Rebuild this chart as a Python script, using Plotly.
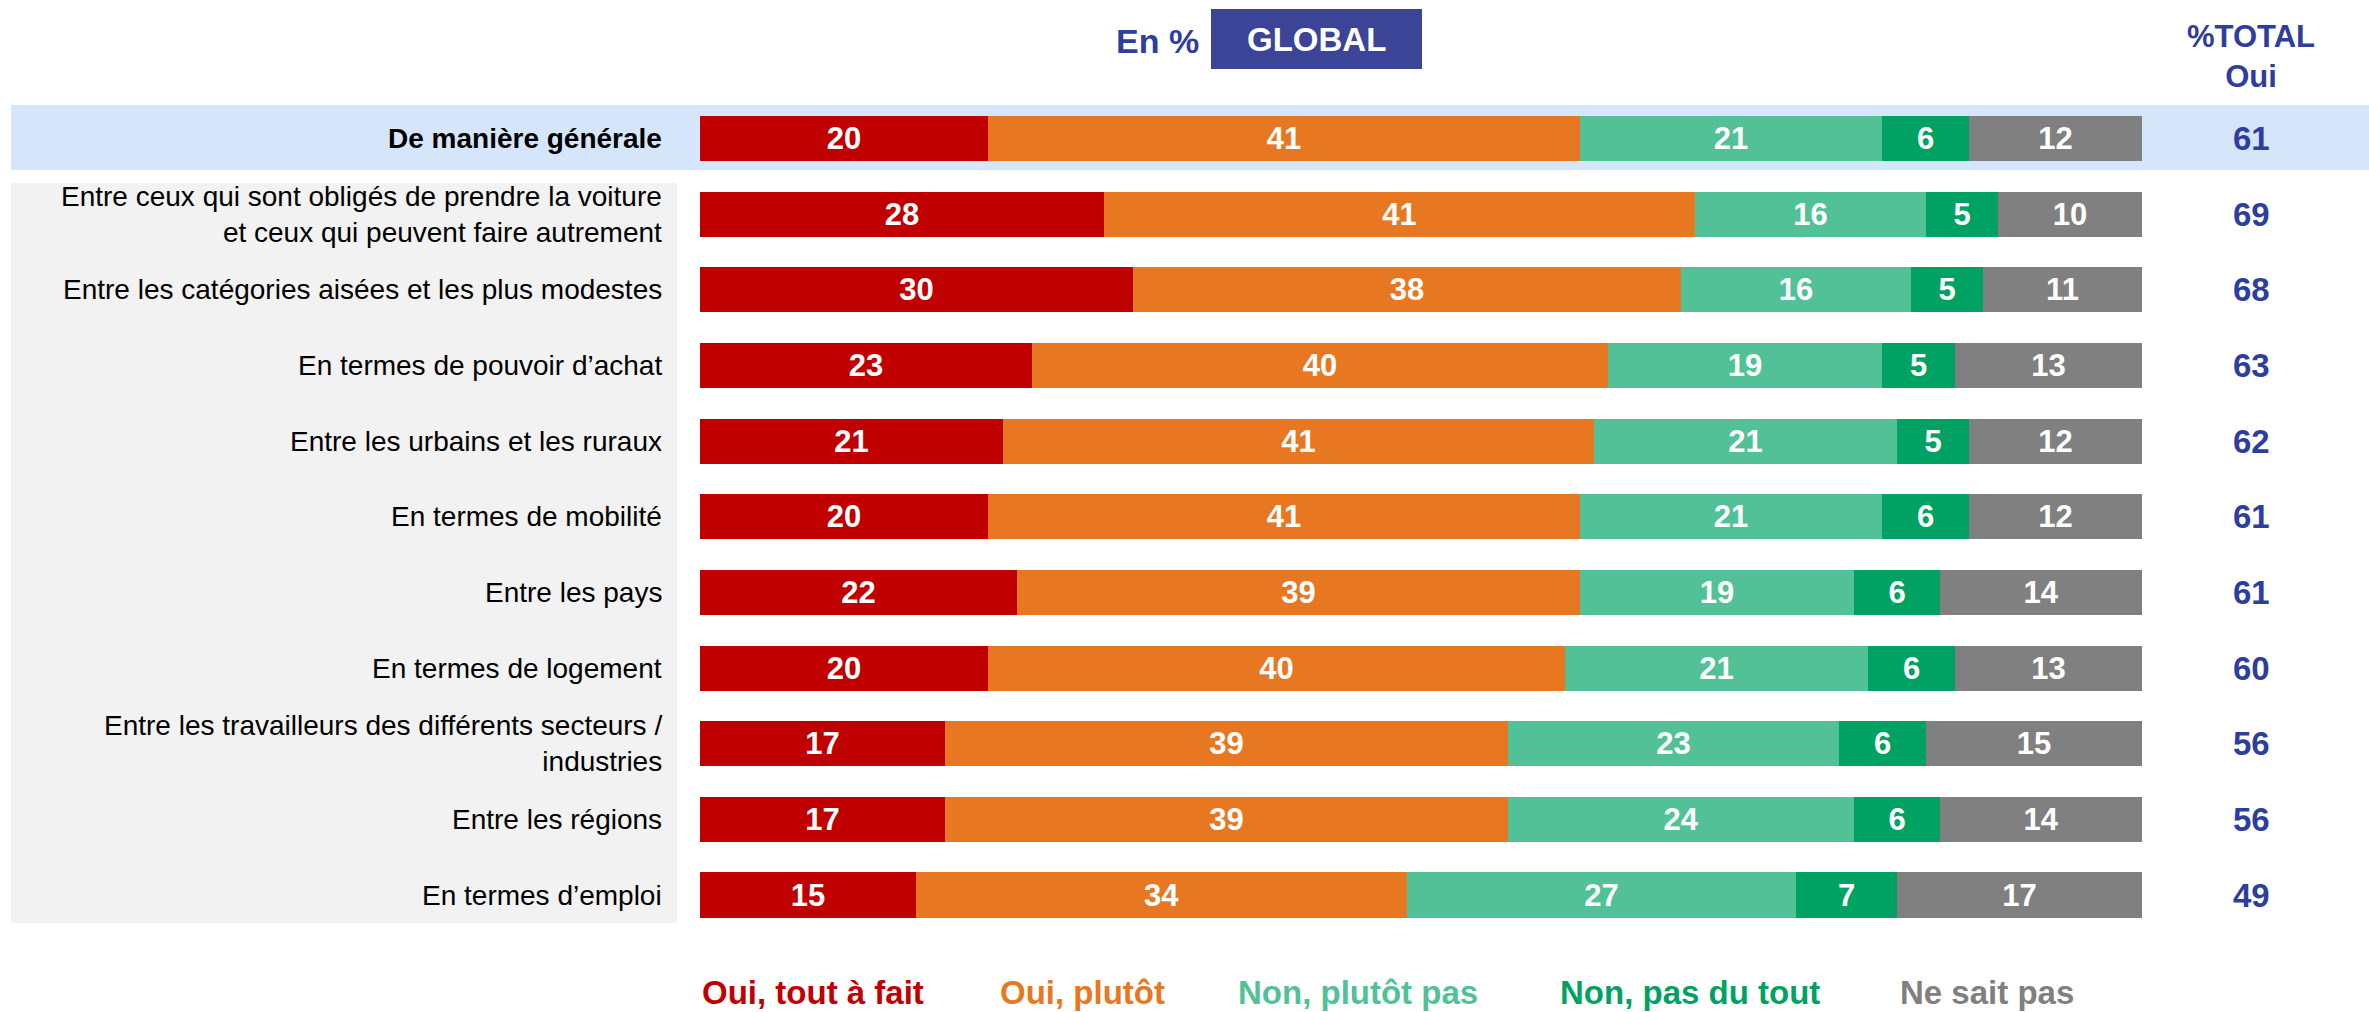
import plotly.graph_objects as go

# Survey results (in %)
categories = [
    "De manière générale",
    "Entre ceux qui sont obligés de prendre la voiture<br>et ceux qui peuvent faire autrement",
    "Entre les catégories aisées et les plus modestes",
    "En termes de pouvoir d’achat",
    "Entre les urbains et les ruraux",
    "En termes de mobilité",
    "Entre les pays",
    "En termes de logement",
    "Entre les travailleurs des différents secteurs /<br>industries",
    "Entre les régions",
    "En termes d’emploi",
]
oui_tout_a_fait = [20, 28, 30, 23, 21, 20, 22, 20, 17, 17, 15]
oui_plutot = [41, 41, 38, 40, 41, 41, 39, 40, 39, 39, 34]
non_plutot_pas = [21, 16, 16, 19, 21, 21, 19, 21, 23, 24, 27]
non_pas_du_tout = [6, 5, 5, 5, 5, 6, 6, 6, 6, 6, 7]
ne_sait_pas = [12, 10, 11, 13, 12, 12, 14, 13, 15, 14, 17]
total_oui = [61, 69, 68, 63, 62, 61, 61, 60, 56, 56, 49]

series_names = ["Oui, tout à fait", "Oui, plutôt", "Non, plutôt pas", "Non, pas du tout", "Ne sait pas"]
series_values = [oui_tout_a_fait, oui_plutot, non_plutot_pas, non_pas_du_tout, ne_sait_pas]
series_colors = ["#C00000", "#E87722", "#52C197", "#00A264", "#808080"]

W, H = 2369, 1012
FONT = "Liberation Sans, Arial, sans-serif"
BLUE = "#2E3E9C"
rows = list(range(len(categories)))


def px_x(p):
    return p / W


def px_y(p):
    return 1 - p / H


fig = go.Figure()
for name, vals, col in zip(series_names, series_values, series_colors):
    fig.add_trace(go.Bar(
        y=rows, x=vals, name=name, orientation="h",
        marker=dict(color=col, line=dict(width=0)),
        width=0.595,
        text=vals, texttemplate="%{text}",
        textposition="inside", insidetextanchor="middle",
        textfont=dict(family=FONT, size=31, color="white", weight="bold"),
        hoverinfo="skip",
    ))

shapes = [
    # highlighted first row band
    dict(type="rect", xref="paper", yref="paper", layer="below",
         x0=px_x(11), x1=1, y0=px_y(170), y1=px_y(105),
         fillcolor="#D6E6FA", line=dict(width=0)),
    # grey background behind the other row labels
    dict(type="rect", xref="paper", yref="paper", layer="below",
         x0=px_x(11), x1=px_x(677), y0=px_y(923), y1=px_y(183),
         fillcolor="#F2F2F2", line=dict(width=0)),
    # GLOBAL box
    dict(type="rect", xref="paper", yref="paper", layer="above",
         x0=px_x(1211), x1=px_x(1422), y0=px_y(69), y1=px_y(9),
         fillcolor="#3B4497", line=dict(width=0)),
]

annotations = []
for i, cat in enumerate(categories):
    annotations.append(dict(
        x=px_x(664), xref="paper", y=i, yref="y",
        text=f"<b>{cat}</b>" if i == 0 else cat,
        xanchor="right", yanchor="middle", align="right", showarrow=False,
        font=dict(family=FONT, size=28, color="#000000"),
    ))
    annotations.append(dict(
        x=px_x(2251), xref="paper", y=i, yref="y",
        text=f"<b>{total_oui[i]}</b>",
        xanchor="center", yanchor="middle", showarrow=False,
        font=dict(family=FONT, size=33, color=BLUE),
    ))

# header
annotations += [
    dict(x=px_x(1157), y=px_y(41), xref="paper", yref="paper", text="<b>En %</b>",
         showarrow=False, xanchor="center", yanchor="middle",
         font=dict(family=FONT, size=34, color=BLUE)),
    dict(x=px_x(1316), y=px_y(39), xref="paper", yref="paper", text="<b>GLOBAL</b>",
         showarrow=False, xanchor="center", yanchor="middle",
         font=dict(family=FONT, size=33, color="white")),
    dict(x=px_x(2251), y=px_y(56), xref="paper", yref="paper", text="<b>%TOTAL<br>Oui</b>",
         showarrow=False, xanchor="center", yanchor="middle",
         font=dict(family=FONT, size=31, color=BLUE)),
]

# legend row along the bottom edge
legend_centers = [813, 1082, 1358, 1690, 1987]
for name, col, cx in zip(series_names, series_colors, legend_centers):
    annotations.append(dict(
        x=px_x(cx), y=0, xref="paper", yref="paper",
        text=f"<b>{name}</b>", showarrow=False, xanchor="center", yanchor="bottom",
        borderpad=0,
        font=dict(family=FONT, size=33, color=col),
    ))

row_step = (895 - 138.5) / 10
y_top = 0 - 138.5 / row_step
y_bottom = (H - 138.5) / row_step

fig.update_layout(
    width=W, height=H,
    margin=dict(l=0, r=0, t=0, b=0),
    paper_bgcolor="white", plot_bgcolor="rgba(0,0,0,0)",
    barmode="stack", bargap=0, showlegend=False,
    uniformtext=dict(minsize=31, mode="show"),
    xaxis=dict(domain=[px_x(700), px_x(2142)], range=[0, 100],
               visible=False, fixedrange=True),
    yaxis=dict(domain=[0, 1], range=[y_bottom, y_top],
               visible=False, fixedrange=True),
    shapes=shapes, annotations=annotations,
)

fig.write_html("out.html")
